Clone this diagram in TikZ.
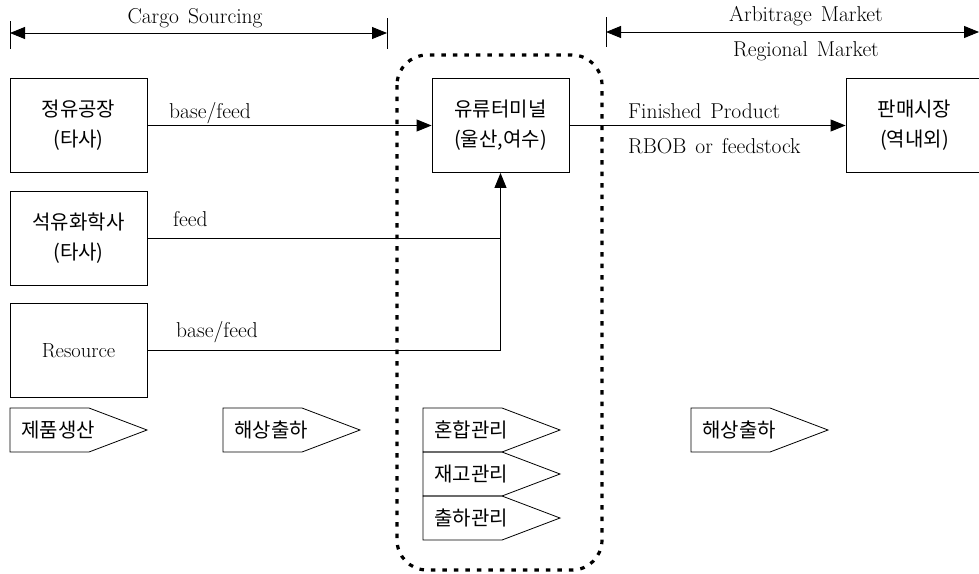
\documentclass[tikz,border=0pt]{standalone}
\usepackage{fontspec}
\newfontfamily\krfont{Noto Sans CJK KR}
\usetikzlibrary{arrows.meta, calc}
\newcommand{\gap}{\hspace{9pt}}
\tikzset{
  unitbox/.style={
    draw, line width=0.9pt,
    minimum width=137, minimum height=94,
    align=center, inner sep=0pt,
    font=\krfont\fontsize{20}{30}\selectfont
  },
  flowlabel/.style={
    inner sep=0pt,
    font=\fontsize{21.5}{24}\selectfont
  },
  tagtext/.style={
    anchor=west, inner sep=0pt,
    font=\krfont\fontsize{20}{22}\selectfont
  },
  tagline/.style={line width=0.8pt},
  flow/.style={line width=0.9pt, -{Triangle[length=15pt,width=12pt]}},
  span/.style={line width=0.9pt, {Triangle[length=15pt,width=12pt]}-{Triangle[length=15pt,width=12pt]}},
  dotbound/.style={
    line width=3.2pt, dash pattern=on 4.5pt off 7pt,
    rounded corners=30pt
  }
}
\newcommand{\tagshape}[4]{%
  \draw[tagline] (#2,#3) -- ++(79,0) -- ++(58,22) -- ++(-58,22) -- ++(-79,0) -- cycle;
  \node[tagtext] (#1) at (#2+11,#3+22) {#4};
}

\begin{document}
\begin{tikzpicture}[x=1pt, y=-1pt]
  \useasboundingbox (0,0) rectangle (979,573);
  \clip (0,0) rectangle (979,573);

  % ── Top spans ─────────────────────────────────────────────────────
  \coordinate (csL) at (10,33);
  \coordinate (csR) at (387,33);
  \draw[line width=0.9pt] (10,21) -- (10,49);
  \draw[line width=0.9pt] (387,18) -- (387,49);
  \draw[span] (csL) -- (csR);
  \node[flowlabel, anchor=base] (cs) at (195,23) {Cargo\gap Sourcing};

  \coordinate (amL) at (606,32);
  \coordinate (amR) at (979,32);
  \draw[line width=0.9pt] (606,17) -- (606,47);
  \draw[span] (amL) -- (amR);
  \node[flowlabel, anchor=base] (am) at (806,21) {Arbitrage\gap Market};
  \node[flowlabel, anchor=base] (rm) at (806,56) {Regional\gap Market};

  % ── Sources ───────────────────────────────────────────────────────
  \node[unitbox] (refin) at (78.5,125.5) {정유공장\\(타사)};
  \node[unitbox] (chem)  at (78.5,238)   {석유화학사\\(타사)};
  \node[unitbox, font=\fontsize{20.5}{22}\selectfont] (res) at (78.5,350.5) {Resource};

  % ── Terminal and market ───────────────────────────────────────────
  \node[unitbox] (term) at (500.5,125.5) {유류터미널\\(울산,여수)};
  \node[unitbox] (mkt)  at (914.5,125.5) {판매시장\\(역내외)};

  \draw[flow] (refin.east) -- (term.west);
  \draw[line width=0.9pt] (chem.east) -- (chem.east -| term.south);
  \draw[flow] (res.east) -| (term.south);
  \draw[flow] (term.east) -- (mkt.west);

  \node[flowlabel, anchor=base west] (lbA) at (169,118) {base/feed};
  \node[flowlabel, anchor=base west] (lbB) at (173,226) {feed};
  \node[flowlabel, anchor=base west] (lbC) at (176,337) {base/feed};
  \node[flowlabel, anchor=base west] (lbD) at (628,118) {Finished\gap Product};
  \node[flowlabel, anchor=base west] (lbE) at (628,153) {RBOB\gap or\gap feedstock};

  % ── Terminal boundary ─────────────────────────────────────────────
  \draw[dotbound] (397,55) rectangle (602,570);

  % ── Stage tags ────────────────────────────────────────────────────
  \foreach \nm/\x/\y/\txt in {tagMake/10/408/제품생산, tagShipA/223/408/해상출하,
                              tagBlend/423/408/혼합관리, tagStock/423/452/재고관리,
                              tagLoad/423/496/출하관리, tagShipB/691/408/해상출하}
    { \tagshape{\nm}{\x}{\y}{\txt} }
\end{tikzpicture}
\end{document}
